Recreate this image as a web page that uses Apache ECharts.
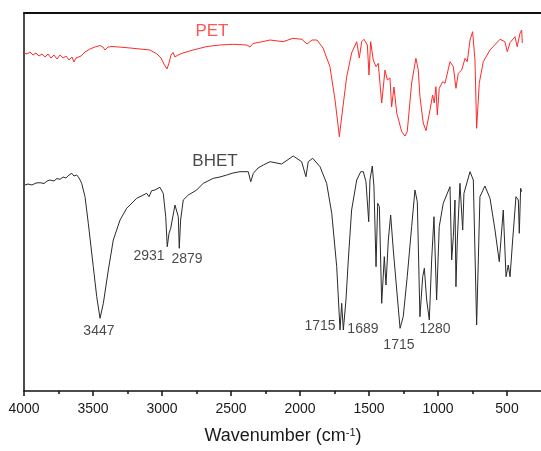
<!DOCTYPE html>
<html>
<head>
<meta charset="utf-8">
<script src="https://cdn.jsdelivr.net/npm/echarts@6/dist/echarts.min.js"></script>
<style>html,body{margin:0;padding:0;background:#fff;}#c{width:541px;height:451px;}</style>
</head>
<body>
<div id="c"></div>
<script>
// Wavenumber (cm-1) and transmittance (arbitrary units)
const petWn = [4000,3978,3957,3935,3913,3891,3870,3848,3826,3804,3783,3761,3739,3717,3696,3674,3652,3638,3623,3609,3587,3558,3522,3486,3449,3428,3413,3391,3362,3268,3159,3087,3036,3007,2986,2964,2949,2935,2920,2906,2884,2848,2775,2674,2580,2486,2384,2362,2341,2239,2217,2123,2051,1986,1949,1913,1877,1833,1783,1746,1722,1715,1698,1662,1626,1589,1570,1553,1536,1512,1500,1488,1469,1449,1433,1408,1384,1367,1348,1336,1319,1299,1263,1239,1223,1191,1160,1143,1131,1107,1087,1058,1039,1027,1015,1005,991,966,949,913,889,870,853,828,804,788,768,749,732,720,701,672,623,551,515,498,478,442,426,406,394,389];
const petT = [338,337,339,336,338,335,337,334,337,333,336,332,336,333,335,331,334,329,333,331,335,339,342,344,345.5,344,341,344,344.5,343.5,342,341,337,333,327,322,328,336,338.5,334,336,338,341,344.5,346,346.7,346,344,347.5,350.3,351,349.3,352.7,351.7,347,351,351,343,324.3,291,263,254.3,274,314,338,349.3,333,349.3,351.7,346,316,349.3,331,324.3,327.7,288,321,311,313,284,304,278,259.3,255,259.3,308,332.7,321,294.3,268,260.3,281,296,288,304.3,276,302.7,309.3,307.7,329.3,324.3,302.7,317.7,321,332.7,329.3,351,359.3,331,262.7,307.7,329.3,341,351.7,349.3,339.3,348.3,354.3,344.3,357.7,361,348];

const bhetWn = [3993,3971,3942,3913,3884,3855,3833,3812,3783,3761,3739,3717,3696,3674,3654,3638,3618,3601,3582,3558,3534,3498,3473,3449,3425,3389,3353,3304,3256,3183,3111,3094,3075,3051,3015,2991,2973,2962,2949,2937,2923,2906,2894,2882,2875,2865,2846,2809,2749,2701,2667,2628,2580,2531,2486,2435,2375,2357,2338,2304,2266,2217,2133,2049,1988,1957,1940,1908,1855,1807,1770,1734,1710,1698,1686,1667,1650,1626,1589,1560,1541,1522,1502,1493,1476,1464,1449,1437,1425,1408,1389,1377,1360,1343,1324,1299,1275,1252,1223,1191,1167,1150,1131,1111,1099,1082,1063,1046,1029,1010,991,962,913,901,889,877,870,860,841,821,812,768,744,720,696,660,623,587,556,527,507,491,478,459,435,418,411,401,394];
const bhetT = [206,207,206,208,208.3,207.5,210,211,210,212.5,211.7,214,213,216,217.7,215,216,213,207.7,194.3,167.7,124.3,94.3,72.7,87.7,121,151,171,182.7,192.7,197.7,194.3,200.3,201,203.7,197.7,174.3,144.3,157.7,162.7,161,186,187.7,174.3,142.7,171,191,196,201,207.7,210,212.7,214,216,218,219.3,219.3,209.3,217.7,223,226,229.3,227,235,229.3,214.3,229.3,232.7,224.3,207.7,177.7,124.3,61,87.7,61,91,131,181,211,219.3,219.3,209.3,169.3,211,225,204.3,124.3,187.7,184.3,87.7,134.3,106,151,176,141,101,62.7,74.3,114.3,164.3,201,189.3,74.3,114.3,122.7,91,71,131,174.3,91,164.3,187.7,204.3,131,154.3,191,104.3,151,207.7,161,197.7,219.3,211,66,194.3,205,192.7,161,129.3,181,114.3,126,114.3,151,194.3,191,157.7,202.7,199.3];

// Annotations: text, wavenumber, value, and which spectrum they belong to
const annoText = ['PET','BHET','3447','2931','2879','1715','1689','1715','1280'];
const annoWn   = [2638, 2616, 3457, 3094, 2819, 1855, 1544, 1283, 1022];
const annoVal  = [359.5, 230, 60, 135, 132, 65, 62, 46, 62];
const annoOf   = ['PET','BHET','BHET','BHET','BHET','BHET','BHET','BHET','BHET'];

// X axis ticks
const xTickMin = 0, xTickMax = 4000, xTickStep = 500;

const FONT = '"Liberation Sans", Arial, sans-serif';
const RED = '#ff2a2a', BLACK = '#2a2a2a';

const zip = (a, b) => a.map((v, i) => [v, b[i]]);

const chart = echarts.init(document.getElementById('c'), null, {renderer: 'canvas'});

const annoData = annoText.map((t, i) => ({
  value: [annoWn[i], annoVal[i]],
  label: {
    formatter: t,
    fontSize: (t === 'PET' || t === 'BHET') ? 17 : 14,
    color: annoOf[i] === 'PET' && t === 'PET' ? RED : '#1a1a1a'
  }
}));

chart.setOption({
  animation: false,
  backgroundColor: '#fff',
  grid: {left: 24, top: 13, width: 552, bottom: 60, containLabel: false, outerBoundsMode: 'none'},
  xAxis: [{
    type: 'value', inverse: true, min: xTickMin, max: xTickMax, interval: xTickStep,
    position: 'bottom',
    axisLine: {show: true, onZero: false, lineStyle: {color: '#111', width: 1.5}},
    axisTick: {show: true, length: 5, inside: false, lineStyle: {color: '#111', width: 1.5}},
    minorTick: {show: true, splitNumber: 2, length: 3, lineStyle: {color: '#111', width: 1.5}},
    axisLabel: {show: true, margin: 11, fontFamily: FONT, fontSize: 14, color: '#1a1a1a',
      formatter: v => String(v)},
    splitLine: {show: false},
    name: '{a|Wavenumber (cm}{s|-1}{a|)}',
    nameLocation: 'middle', nameGap: 36,
    nameTextStyle: {
      padding: [0, 34, 0, 0],
      rich: {
        a: {fontFamily: FONT, fontSize: 18, color: '#1a1a1a'},
        s: {fontFamily: FONT, fontSize: 11, color: '#1a1a1a', verticalAlign: 'top', padding: [0, 0, 8, 0]}
      }
    }
  }, {
    type: 'value', inverse: true, min: xTickMin, max: xTickMax,
    position: 'top',
    axisLine: {show: true, onZero: false, lineStyle: {color: '#111', width: 2}},
    axisTick: {show: false}, axisLabel: {show: false}, splitLine: {show: false}
  }],
  yAxis: {
    type: 'value', min: 0, max: 378,
    axisLine: {show: true, onZero: false, lineStyle: {color: '#111', width: 1.5}},
    axisTick: {show: false}, axisLabel: {show: false}, splitLine: {show: false}
  },
  series: [{
    name: 'PET', type: 'line', data: zip(petWn, petT), showSymbol: false, symbol: 'none',
    lineStyle: {color: RED, width: 1}, z: 3
  }, {
    name: 'BHET', type: 'line', data: zip(bhetWn, bhetT), showSymbol: false, symbol: 'none',
    lineStyle: {color: BLACK, width: 1}, z: 3
  }, {
    name: 'labels', type: 'scatter', data: annoData, symbolSize: 1,
    itemStyle: {color: 'rgba(0,0,0,0)'},
    label: {show: true, position: 'inside', fontFamily: FONT},
    silent: true, z: 5
  }]
});
</script>
</body>
</html>
